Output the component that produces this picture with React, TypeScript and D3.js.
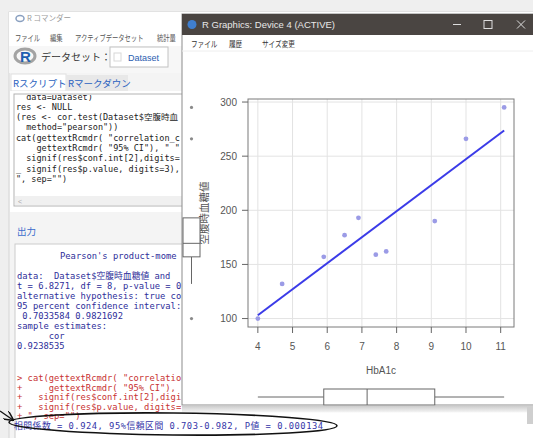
import * as d3 from 'd3';
import React from 'react';

// scatter data (HbA1c vs fasting glucose)
const hba1c = [4.0, 4.7, 5.9, 6.5, 6.9, 7.4, 7.7, 9.1, 10.0, 11.1];
const glucose = [100, 132, 157, 177, 193, 159, 162, 190, 266, 295];
const xTicks = [4, 5, 6, 7, 8, 9, 10, 11];
const yTicks = [100, 150, 200, 250, 300];
const xLabel = 'HbA1c';
const yLabel = '空腹時血糖値';

// only the part of each console line that is not hidden by the graphics window
const scriptLines = [
  '  data=Dataset)',
  'res <- NULL',
  '(res <- cor.test(Dataset$空腹時血',
  '  method="pearson"))',
  'cat(gettextRcmdr( "correlation_c',
  '    gettextRcmdr( "95% CI"), " "',
  '  signif(res$conf.int[2],digits=',
  '_ signif(res$p.value, digits=3),',
  '", sep="")',
];

const outputTitle = "Pearson's product-mome";
const outputLines = [
  'data:  Dataset$空腹時血糖値 and',
  't = 6.8271, df = 8, p-value = 0',
  'alternative hypothesis: true co',
  '95 percent confidence interval:',
  ' 0.7033584 0.9821692',
  'sample estimates:',
  '      cor',
  '0.9238535',
];

const commandLines = [
  '> cat(gettextRcmdr( "correlatio',
  '+     gettextRcmdr( "95% CI"), ',
  '+   signif(res$conf.int[2],digi',
  '+   signif(res$p.value, digits=',
  '+ ", sep="")',
];

const resultLine = '相関係数 = 0.924, 95%信頼区間 0.703-0.982, P値 = 0.000134';

// window menus: label and x position
const rcmdrMenu: [string, number][] = [['ファイル', 15], ['編集', 50], ['アクティブデータセット', 75], ['統計量', 157]];
const deviceMenu: [string, number][] = [['ファイル', 191], ['履歴', 229], ['サイズ変更', 262]];

const MONO = '"DejaVu Sans Mono", "Noto Sans CJK JP", monospace';
const JP = '"Noto Sans CJK JP", "Noto Sans", sans-serif';
const SANS = '"Liberation Sans", "Noto Sans CJK JP", sans-serif';

// R style axis range: data range + 4% each side
function padExtent(v: number[]) {
  const [lo, hi] = d3.extent(v) as [number, number];
  const p = (hi - lo) * 0.04;
  return [lo - p, hi + p];
}

// Tukey five number summary + whiskers, like boxplot.stats
function boxStats(v: number[]) {
  const s = v.slice().sort(d3.ascending);
  const n = s.length;
  const n4 = Math.floor((n + 3) / 2) / 2;
  const at = (d: number) => 0.5 * (s[Math.floor(d) - 1] + s[Math.ceil(d) - 1]);
  const q1 = at(n4);
  const med = at((n + 1) / 2);
  const q3 = at(n + 1 - n4);
  const iqr = q3 - q1;
  const inside = s.filter((d) => d >= q1 - 1.5 * iqr && d <= q3 + 1.5 * iqr);
  return {
    q1,
    med,
    q3,
    lo: d3.min(inside) as number,
    hi: d3.max(inside) as number,
    out: s.filter((d) => d < q1 - 1.5 * iqr || d > q3 + 1.5 * iqr),
  };
}

function App() {
  const plot = { left: 248, right: 514, top: 99, bottom: 327 };

  const x = d3.scaleLinear().domain(padExtent(hba1c)).range([plot.left, plot.right]);
  const y = d3.scaleLinear().domain(padExtent(glucose)).range([plot.bottom, plot.top]);

  // least squares line
  const mx = d3.mean(hba1c) as number;
  const my = d3.mean(glucose) as number;
  const sxy = d3.sum(hba1c, (d, i) => (d - mx) * (glucose[i] - my));
  const sxx = d3.sum(hba1c, (d) => (d - mx) * (d - mx));
  const slope = sxy / sxx;
  const icpt = my - slope * mx;
  const [xmin, xmax] = d3.extent(hba1c) as [number, number];
  const fit = d3.line<number>().x((d) => x(d)).y((d) => y(icpt + slope * d));

  const bx = boxStats(hba1c);
  const by = boxStats(glucose);
  const leftBox = { cx: 191.5, w: 17 };
  const bottomBox = { cy: 397, h: 16 };

  return (
    <div style={{ position: 'fixed', left: 0, top: 0 }}>
      <svg width={533} height={438} style={{ display: 'block' }}>
        <defs>
          <clipPath id="scriptClip">
            <rect x={15} y={95} width={520} height={100} />
          </clipPath>
          <linearGradient id="shadow" x1="0" x2="0" y1="0" y2="1">
            <stop offset="0" stopColor="#c9c9c9" />
            <stop offset="1" stopColor="#f6f6f6" />
          </linearGradient>
          <marker id="arrow" viewBox="0 0 10 10" refX="9" refY="5" markerWidth="7" markerHeight="7" orient="auto">
            <path d="M0,0 L10,5 L0,10" fill="none" stroke="#111" strokeWidth={1.5} />
          </marker>
        </defs>

        <rect width={533} height={438} fill="#efefef" />

        {/* R Commander window */}
        <rect x={9} y={12} width={530} height={430} fill="#f4f4f4" stroke="#d6d6d6" />
        <rect x={9} y={12} width={530} height={34} fill="#ffffff" />
        <ellipse cx={20} cy={18.5} rx={4} ry={3} fill="none" stroke="#8aa0c0" strokeWidth={1.5} />
        <text x={27} y={21} fontSize={7.5} fill="#9a9a9a" fontFamily={JP}>R コマンダー</text>
        <g fontSize={8.5} fill="#555" fontFamily={JP}>
          {rcmdrMenu.map(([s, mx0]) => (
            <text key={s} transform={`translate(${mx0},41) scale(0.74,1)`}>{s}</text>
          ))}
        </g>

        <rect x={9} y={46} width={530} height={27} fill="#f7f7f7" />
        <ellipse cx={25} cy={56} rx={10} ry={7} fill="none" stroke="#a3a3a3" strokeWidth={3} />
        <text x={20} y={62} fontSize={15} fontWeight="bold" fill="#1f5fb0" fontFamily={SANS}>R</text>
        <text x={41} y={60.5} fontSize={10} fill="#333" fontFamily={JP}>データセット：</text>
        <rect x={110} y={47} width={58} height={20} fill="#ffffff" stroke="#c2c2c2" />
        <rect x={114} y={53} width={7} height={8} fill="none" stroke="#d8d8d8" />
        <text x={128} y={60.5} fontSize={9} fill="#2a5db0" fontFamily={SANS}>Dataset</text>

        <rect x={11} y={74} width={55} height={17} fill="#ffffff" stroke="#e0e0e0" />
        <text x={13} y={86.5} fontSize={9.5} fill="#2a62c0" fontFamily={JP}>Rスクリプト</text>
        <rect x={66} y={75} width={62} height={16} fill="#e8e8e8" />
        <text x={68} y={87} fontSize={9.5} fill="#2a62c0" fontFamily={JP}>Rマークダウン</text>

        <rect x={10} y={91} width={530} height={121} fill="#ffffff" />
        <rect x={14} y={94} width={530} height={112} fill="#ffffff" stroke="#b3b3b3" />
        <g clipPath="url(#scriptClip)">
          {scriptLines.map((s, i) => (
            <text key={i} x={16} y={99.5 + i * 10.3} fontSize={8.5} fill="#222" fontFamily={MONO} style={{ whiteSpace: 'pre' }}>
              {s}
            </text>
          ))}
        </g>
        <rect x={15} y={196} width={530} height={9} fill="#f0f0f0" />
        <text x={18} y={203.5} fontSize={7} fill="#aaa" fontFamily={SANS}>&lt;</text>

        <text x={17} y={235} fontSize={9.5} fill="#3a6ccc" fontFamily={JP}>出力</text>
        <rect x={15} y={244} width={530} height={200} fill="#ffffff" stroke="#cccccc" />
        <text x={60} y={259} fontSize={8.8} fill="#2e2e9a" fontFamily={MONO} style={{ whiteSpace: 'pre' }}>
          {outputTitle}
        </text>
        {outputLines.map((s, i) => (
          <text key={i} x={17} y={279 + i * 10} fontSize={8.8} fill="#2e2e9a" fontFamily={MONO} style={{ whiteSpace: 'pre' }}>
            {s}
          </text>
        ))}
        {commandLines.map((s, i) => (
          <text key={i} x={17} y={381 + i * 9.5} fontSize={8.8} fill="#c83232" fontFamily={MONO} style={{ whiteSpace: 'pre' }}>
            {s}
          </text>
        ))}

        {/* R Graphics window */}
        <g>
          <rect x={182} y={14} width={360} height={391} fill="#ffffff" stroke="#8c8c8c" />
          <rect x={182} y={14} width={360} height={21} fill="#4a4542" />
          <circle cx={192} cy={24.5} r={4.5} fill="#3f7fd0" />
          <text x={202} y={28} fontSize={9.5} fill="#e8e8e8" fontFamily={SANS}>
            R Graphics: Device 4 (ACTIVE)
          </text>
          <line x1={453} x2={461} y1={24.5} y2={24.5} stroke="#ddd" />
          <rect x={484} y={20.5} width={8} height={8} fill="none" stroke="#ddd" />
          <path d="M517,20.5 L525,28.5 M525,20.5 L517,28.5" stroke="#ddd" />
          <g fontSize={8.5} fill="#333" fontFamily={JP}>
            {deviceMenu.map(([s, mx0]) => (
              <text key={s} transform={`translate(${mx0},47) scale(0.78,1)`}>{s}</text>
            ))}
          </g>
          <line x1={182} x2={533} y1={51} y2={51} stroke="#eeeeee" />

          {/* grid */}
          {xTicks.map((t) => (
            <line key={'gx' + t} x1={x(t)} x2={x(t)} y1={plot.top} y2={plot.bottom} stroke="#e3e3e3" />
          ))}
          {yTicks.map((t) => (
            <line key={'gy' + t} x1={plot.left} x2={plot.right} y1={y(t)} y2={y(t)} stroke="#e3e3e3" />
          ))}

          {/* fitted line and points */}
          <path d={fit([xmin, xmax]) as string} fill="none" stroke="#3b3be8" strokeWidth={2} />
          {hba1c.map((d, i) => (
            <circle key={i} cx={x(d)} cy={y(glucose[i])} r={2.4} fill="#9b9be6" />
          ))}

          <rect x={plot.left} y={plot.top} width={plot.right - plot.left} height={plot.bottom - plot.top} fill="none" stroke="#7a7a7a" />

          {/* axes */}
          {xTicks.map((t) => (
            <g key={'xt' + t}>
              <line x1={x(t)} x2={x(t)} y1={plot.bottom} y2={plot.bottom + 6} stroke="#666" />
              <text x={x(t)} y={349.5} fontSize={10} fill="#555" textAnchor="middle" fontFamily={SANS}>{t}</text>
            </g>
          ))}
          {yTicks.map((t) => (
            <g key={'yt' + t}>
              <line x1={plot.left - 6} x2={plot.left} y1={y(t)} y2={y(t)} stroke="#666" />
              <text x={237} y={y(t) + 3.5} fontSize={10} fill="#555" textAnchor="end" fontFamily={SANS}>{t}</text>
            </g>
          ))}
          <text x={(plot.left + plot.right) / 2} y={374} fontSize={10} fill="#555" textAnchor="middle" fontFamily={SANS}>
            {xLabel}
          </text>
          <text
            transform={`translate(208,${(plot.top + plot.bottom) / 2}) rotate(-90)`}
            fontSize={10.5}
            fill="#555"
            textAnchor="middle"
            fontFamily={JP}
          >
            {yLabel}
          </text>

          {/* marginal boxplot of y */}
          <g stroke="#666" fill="none">
            <line x1={leftBox.cx} x2={leftBox.cx} y1={y(by.lo)} y2={y(by.q1)} />
            <line x1={leftBox.cx} x2={leftBox.cx} y1={y(by.q3)} y2={y(by.hi)} />
            <rect x={leftBox.cx - leftBox.w / 2} y={y(by.q3)} width={leftBox.w} height={y(by.q1) - y(by.q3)} fill="#fff" />
            <line x1={leftBox.cx - leftBox.w / 2} x2={leftBox.cx + leftBox.w / 2} y1={y(by.med)} y2={y(by.med)} />
          </g>
          {by.out.map((d, i) => (
            <circle key={i} cx={leftBox.cx} cy={y(d)} r={1.6} fill="#8a8a8a" />
          ))}

          {/* marginal boxplot of x */}
          <g stroke="#666" fill="none">
            <line x1={x(bx.lo)} x2={x(bx.q1)} y1={bottomBox.cy} y2={bottomBox.cy} />
            <line x1={x(bx.q3)} x2={x(bx.hi)} y1={bottomBox.cy} y2={bottomBox.cy} />
            <rect x={x(bx.q1)} y={bottomBox.cy - bottomBox.h / 2} width={x(bx.q3) - x(bx.q1)} height={bottomBox.h} fill="#fff" />
            <line x1={x(bx.med)} x2={x(bx.med)} y1={bottomBox.cy - bottomBox.h / 2} y2={bottomBox.cy + bottomBox.h / 2} />
          </g>
        </g>

        {/* strip under the graphics window */}
        <rect x={182} y={405.5} width={351} height={7} fill="url(#shadow)" />
        <rect x={527} y={407} width={6} height={17} fill="#cfcfcf" />

        <text x={14} y={429} fontSize={8.8} fill="#3535a8" fontFamily={MONO} textLength={309} lengthAdjust="spacing" style={{ whiteSpace: 'pre' }}>
          {resultLine}
        </text>

        {/* hand drawn highlight */}
        <ellipse cx={173} cy={424} rx={164} ry={11} fill="none" stroke="#111" strokeWidth={1.6} transform="rotate(0.6 173 424)" />
        <line x1={0} y1={411} x2={13} y2={420} stroke="#111" strokeWidth={1.4} markerEnd="url(#arrow)" />
      </svg>
    </div>
  );
}

export default App;
